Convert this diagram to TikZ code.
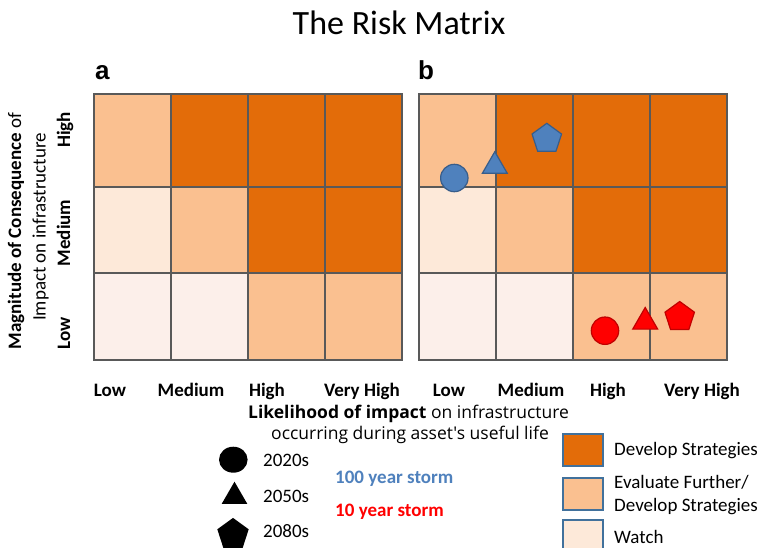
\documentclass[tikz,border=0pt]{standalone}
\usepackage{fontspec}
\setmainfont{Carlito}
\newfontfamily\labelfont{Liberation Sans}
\newfontfamily\handfont{Open Sans}
\usepackage{tikz}
\usetikzlibrary{shapes}
\definecolor{devcol}{HTML}{E36C09}
\definecolor{evalcol}{HTML}{FAC090}
\definecolor{watchcol}{HTML}{FDE9D9}
\definecolor{lowcol}{HTML}{FCEFEA}
\definecolor{gridcol}{HTML}{595959}
\definecolor{stormblue}{HTML}{4F81BD}
\definecolor{stormblueline}{HTML}{385D8A}
\definecolor{stormred}{HTML}{FF0000}
\definecolor{stormredline}{HTML}{C00000}
\definecolor{keyline}{HTML}{41719C}
% one 4x3 matrix, #1 = name prefix, #2 = left edge
\newcommand{\riskgrid}[2]{
  \foreach \col/\row/\shade in {1/1/evalcol, 2/1/devcol, 3/1/devcol, 4/1/devcol,
                                1/2/watchcol, 2/2/evalcol, 3/2/devcol, 4/2/devcol,
                                1/3/lowcol, 2/3/lowcol, 3/3/evalcol, 4/3/evalcol}{
    \pgfmathsetmacro{\cellx}{#2+77*(\col-1)}
    \pgfmathsetmacro{\celly}{{93,186,272}[\row-1]}
    \pgfmathsetmacro{\rowh}{{93,86,87}[\row-1]}
    \node[cell, fill=\shade, minimum height=\rowh pt] (#1\col\row) at (\cellx,\celly) {};
  }
}
\tikzset{cell/.style     = {draw=gridcol, line width=2.4pt, anchor=north west,
                            inner sep=0pt, minimum width=77pt},
         xlab/.style     = {font=\fontsize{19}{23}\selectfont\bfseries, anchor=base},
         ylab/.style     = {font=\fontsize{19}{23}\selectfont, rotate=90, anchor=base},
         panel/.style    = {font=\labelfont\bfseries\fontsize{26}{30}\selectfont, anchor=base west, inner sep=0pt},
         hand/.style     = {font=\handfont\fontsize{17.5}{21}\selectfont, anchor=base},
         keytext/.style  = {font=\fontsize{19}{23}\selectfont, anchor=base west, inner sep=0pt},
         keybox/.style   = {draw=keyline, line width=2pt, anchor=north west,
                            minimum width=40pt, minimum height=32pt, inner sep=0pt},
         yeardot/.style  = {circle, inner sep=0pt, minimum size=27.4pt},
         yeartri/.style  = {regular polygon, regular polygon sides=3, inner sep=0pt, minimum size=28.8pt},
         yearpenta/.style= {regular polygon, regular polygon sides=5, inner sep=0pt, minimum size=31pt},
         hundred/.style  = {fill=stormblue, draw=stormblueline, line width=1.2pt},
         tenyear/.style  = {fill=stormred, draw=stormredline, line width=1.2pt}}

\begin{document}
\begin{tikzpicture}[x=1pt, y=-1pt]
  \path[use as bounding box, fill=white] (0,0) rectangle (763,547);
  \node[font=\fontsize{34}{40}\selectfont] (title) at (399,23) {The Risk Matrix};
  \node[panel] (panela) at (95,79) {a};
  \node[panel] (panelb) at (418,79) {b};
  \riskgrid{a}{93}
  \riskgrid{b}{418}
  % axis labels
  \node[xlab] (alow) at (110,396) {Low};
  \node[xlab] (amed) at (191,396) {Medium};
  \node[xlab] (ahigh) at (267,396) {High};
  \node[xlab] (avhigh) at (362,396) {Very High};
  \node[xlab] (blow) at (449,396) {Low};
  \node[xlab] (bmed) at (531,396) {Medium};
  \node[xlab] (bhigh) at (608,396) {High};
  \node[xlab] (bvhigh) at (702,396) {Very High};
  \node[ylab] (ytitle) at (21,231) {\textbf{Magnitude of Consequence} of};
  \node[ylab] (ysub) at (45.5,227) {Impact on infrastructure};
  \node[ylab, font=\fontsize{19}{23}\selectfont\bfseries] (yhigh) at (70,130) {High};
  \node[ylab, font=\fontsize{19}{23}\selectfont\bfseries] (ymed) at (70,233) {Medium};
  \node[ylab, font=\fontsize{19}{23}\selectfont\bfseries] (ylow) at (70,333) {Low};
  \node[hand] (xtitle) at (408.5,418) {\textbf{Likelihood of impact} on infrastructure};
  \node[hand] (xsub) at (410,439) {occurring during asset's useful life};
  % storm projections
  \node[yeardot, hundred] (bdot) at (454.3,178) {};
  \node[yeartri, hundred] (btri) at (494.8,166.1) {};
  \node[yearpenta, hundred] (bpenta) at (546.8,138.8) {};
  \node[yeardot, tenyear] (rdot) at (605,330.7) {};
  \node[yeartri, tenyear] (rtri) at (645.2,321.9) {};
  \node[yearpenta, tenyear] (rpenta) at (679.7,317) {};
  % legend
  \node[ellipse, fill=black, inner sep=0pt, minimum width=28.6pt, minimum height=26pt] (kdot) at (233.3,459.7) {};
  \node[yeartri, fill=black, minimum size=29.6pt] (ktri) at (234.5,496.5) {};
  \node[yearpenta, fill=black, minimum size=33pt] (kpenta) at (233,534.4) {};
  \node[keytext] (k2020) at (263,466) {2020s};
  \node[keytext] (k2050) at (263,502.5) {2050s};
  \node[keytext] (k2080) at (263,537) {2080s};
  \node[keytext, font=\fontsize{19}{23}\selectfont\bfseries, text=stormblue] (khundred) at (335,483) {100 year storm};
  \node[keytext, font=\fontsize{19}{23}\selectfont\bfseries, text=stormred] (kten) at (335,516) {10 year storm};
  \node[keybox, fill=devcol] (kdev) at (561.7,433.3) {};
  \node[keybox, fill=evalcol] (keval) at (561.7,476.7) {};
  \node[keybox, fill=watchcol] (kwatch) at (561.7,519.3) {};
  \node[keytext] (tdev) at (614,455) {Develop Strategies};
  \node[keytext] (teval) at (614,488) {Evaluate Further/};
  \node[keytext] (teval2) at (614,511) {Develop Strategies};
  \node[keytext] (twatch) at (614,543) {Watch};
\end{tikzpicture}
\end{document}
